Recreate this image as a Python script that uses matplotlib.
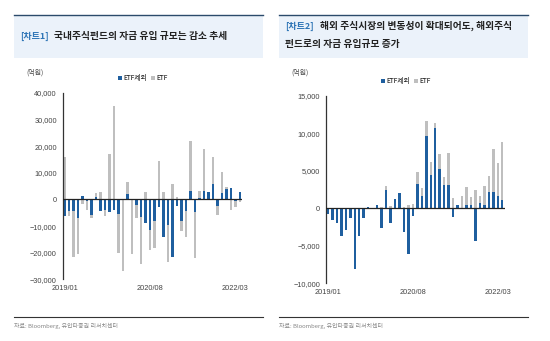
import matplotlib.pyplot as plt
import matplotlib.patches as patches
import numpy as np

plt.rcParams['font.family'] = ['Noto Sans CJK KR', 'DejaVu Sans']

# 월별 자금 유입 (억원), 2019/01 ~ 2022/04
months = ['2019/01', '2019/02', '2019/03', '2019/04', '2019/05', '2019/06', '2019/07', '2019/08',
          '2019/09', '2019/10', '2019/11', '2019/12', '2020/01', '2020/02', '2020/03', '2020/04',
          '2020/05', '2020/06', '2020/07', '2020/08', '2020/09', '2020/10', '2020/11', '2020/12',
          '2021/01', '2021/02', '2021/03', '2021/04', '2021/05', '2021/06', '2021/07', '2021/08',
          '2021/09', '2021/10', '2021/11', '2021/12', '2022/01', '2022/02', '2022/03', '2022/04']
tick_labels = ['2019/01', '2020/08', '2022/03']

# 차트1: 국내주식펀드
dom_ex_etf = [-6200, -4300, -4500, -7000, 1300, -500, -6000, 800, -4400, -3800,
              -4900, -3800, -5600, -300, 2000, -300, -2000, -6500, -8900, -11500,
              -8000, -3000, -14000, -9600, -21600, -2600, -8000, -4500, 3300, -4900,
              500, 3300, 2800, 5900, -2600, 2600, 4000, 4300, -500, 2800]
dom_etf = [16100, -2100, -17000, -13500, -1800, -3500, -1000, 1600, 2900, -2400,
           17200, 35000, -14500, -26400, 4700, -20300, -5100, -17600, 2700, -7500,
           -10400, 14300, 2800, -13800, 5700, 800, -3700, -9700, 18600, -17200,
           2800, 15700, 0, 9900, -3200, 7700, 700, -3900, -2300, -800]

# 차트2: 해외주식펀드
ovs_ex_etf = [-800, -1600, -2000, -3700, -2900, -1300, -8100, -3700, -1300, 200,
              -100, 500, -2600, 2400, -1900, 1300, 2000, -3100, -6100, -1000,
              3200, 1600, 9600, 4400, 10700, 5300, 3100, 3100, -1100, 450,
              100, 450, 450, -4300, 700, 450, 2200, 2200, 1600, 1100]
ovs_etf = [0, 0, 0, 0, 0, 0, 0, 0, 0, 0,
           0, 0, 200, 600, 300, 0, 0, 200, 450, 600,
           1600, 1100, 2100, 1800, 700, 2000, 1100, 4300, 1400, 0,
           1500, 2400, 1100, 2400, 900, 2500, 2100, 5700, 4500, 7800]

blue = '#1F5F9F'
gray = '#BFBFBF'


def draw_panel(ax, ex_etf, etf, yticks, ylabels):
    x = np.arange(len(months))
    ex_etf = np.array(ex_etf)
    etf = np.array(etf)
    # 같은 부호일 때만 ETF를 위/아래로 쌓음
    bottom = np.where(ex_etf * etf > 0, ex_etf, 0)
    ax.bar(x, ex_etf, width=0.55, color=blue, label='ETF제외', zorder=2)
    ax.bar(x, etf, width=0.55, bottom=bottom, color=gray, label='ETF', zorder=2)
    ax.axhline(0, color='#222222', linewidth=0.9, zorder=3)
    ax.set_xlim(-0.5, len(months) - 0.5)
    ax.set_ylim(yticks[0], yticks[-1])
    ax.set_yticks(yticks)
    ax.set_yticklabels(ylabels, fontsize=5.3, color='#444444', family='Liberation Sans')
    ax.set_xticks([months.index(m) for m in tick_labels])
    ax.set_xticklabels(tick_labels, fontsize=5.3, color='#444444', family='Liberation Sans')
    ax.tick_params(length=0, pad=4)
    for s in ['top', 'right', 'bottom']:
        ax.spines[s].set_visible(False)
    ax.spines['left'].set_color('#333333')
    ax.spines['left'].set_linewidth(0.9)
    ax.legend(loc='lower center', bbox_to_anchor=(0.45, 1.04), ncol=2, frameon=False,
              fontsize=4.8, handlelength=0.6, handleheight=0.6, handletextpad=0.2,
              columnspacing=0.6, borderpad=0)


fig = plt.figure(figsize=(5.5, 3.41), dpi=100)
W, H = 550, 341


def fx(px):
    return px / W


def fy(py):
    return 1 - py / H


# 제목 상자와 하단 구분선
for x0, x1 in [(14, 263), (279, 528)]:
    fig.patches.append(patches.Rectangle((fx(x0), fy(58)), fx(x1 - x0), (58 - 15) / H,
                                         transform=fig.transFigure, facecolor='#EBF2FA',
                                         edgecolor='none', zorder=0))
    fig.lines.append(plt.Line2D([fx(x0), fx(x1)], [fy(15), fy(15)], transform=fig.transFigure,
                                color='#2B4A6B', linewidth=1.0))
    fig.lines.append(plt.Line2D([fx(x0), fx(x1)], [fy(317), fy(317)], transform=fig.transFigure,
                                color='#333333', linewidth=0.8))
    fig.text(fx(x0), fy(326), '자료: Bloomberg, 유안타증권 리서치센터', fontsize=4.3,
             color='#888888', va='center')

fig.text(fx(20), fy(36), '[차트1]', fontsize=6.5, color='#2E75B6', weight='bold', va='center')
fig.text(fx(54), fy(36), '국내주식펀드의 자금 유입 규모는 감소 추세', fontsize=7,
         color='#222222', weight='bold', va='center')
fig.text(fx(285), fy(26), '[차트2]', fontsize=6.5, color='#2E75B6', weight='bold', va='center')
fig.text(fx(320), fy(26), '해외 주식시장의 변동성이 확대되어도, 해외주식', fontsize=7,
         color='#222222', weight='bold', va='center')
fig.text(fx(285), fy(44), '펀드로의 자금 유입규모 증가', fontsize=7,
         color='#222222', weight='bold', va='center')

fig.text(fx(26), fy(73), '(억원)', fontsize=5, color='#444444', va='center')
fig.text(fx(291), fy(73), '(억원)', fontsize=5, color='#444444', va='center')

ax1 = fig.add_axes([fx(62.5), fy(279.3), fx(179.6), (279.3 - 93) / H])
draw_panel(ax1, dom_ex_etf, dom_etf,
           [-30000, -20000, -10000, 0, 10000, 20000, 30000, 40000],
           ['−30,000', '−20,000', '−10,000', '0', '10,000', '20,000', '30,000', '40,000'])

ax2 = fig.add_axes([fx(325.7), fy(283.3), fx(178.8), (283.3 - 96) / H])
draw_panel(ax2, ovs_ex_etf, ovs_etf,
           [-10000, -5000, 0, 5000, 10000, 15000],
           ['−10,000', '−5,000', '0', '5,000', '10,000', '15,000'])

fig.savefig('out.png', dpi=100)
